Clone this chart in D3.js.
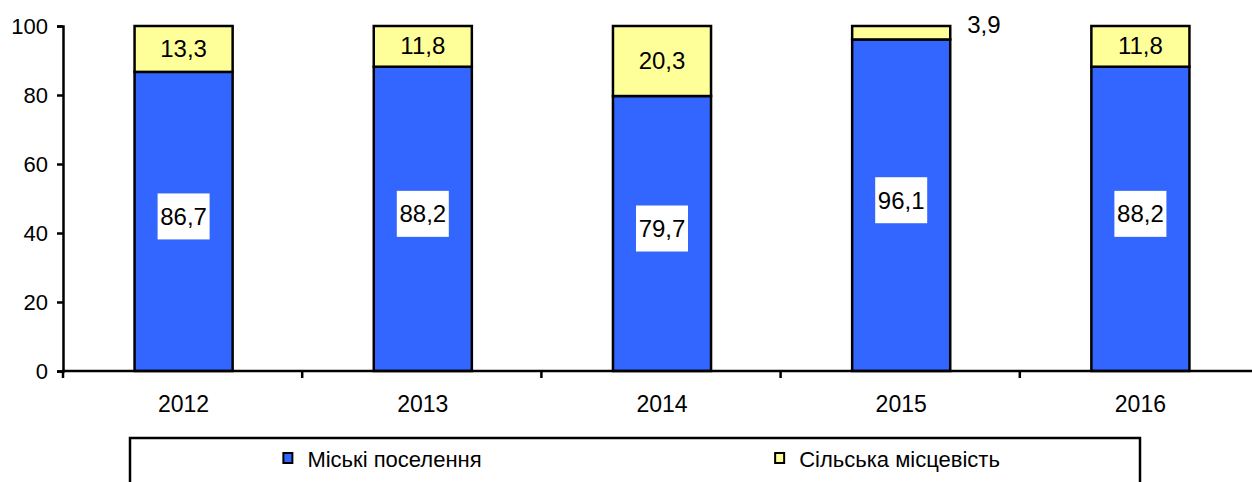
<!DOCTYPE html>
<meta charset="utf-8">
<html>
<head>
    <style>
        body { margin: 0; background: #fff; }
        svg text { font-family: "Liberation Sans", Arial, sans-serif; fill: #000; }
    </style>
    <script src="https://d3js.org/d3.v7.min.js"></script>
</head>
<body>
<div id="chart-container"></div>
<script>
    // data
    var years = ["2012", "2013", "2014", "2015", "2016"];
    var urban = [86.7, 88.2, 79.7, 96.1, 88.2];
    var rural = [13.3, 11.8, 20.3, 3.9, 11.8];
    var seriesNames = ["Міські поселення", "Сільська місцевість"];
    var yTicks = [0, 20, 40, 60, 80, 100];

    var width = 1252, height = 482;
    var colors = ["#3366FF", "#FFFF99"];

    var rows = years.map(function (y, i) {
        return { year: y, urban: urban[i], rural: rural[i] };
    });
    var stackedData = d3.stack().keys(["urban", "rural"])(rows);

    var fmt = function (v) { return d3.format(".1f")(v).replace(".", ","); };

    var svg = d3.select("#chart-container")
        .append("svg")
        .attr("width", width)
        .attr("height", height);

    var x = d3.scaleBand()
        .domain(years)
        .range([64, 1260])
        .paddingInner(0.59)
        .paddingOuter(0.295);

    var y = d3.scaleLinear()
        .domain([0, 100])
        .range([371, 26]);

    // bars
    svg.append("g")
        .selectAll("g")
        .data(stackedData)
        .enter().append("g")
        .attr("fill", function (d, i) { return colors[i]; })
        .selectAll("rect")
        .data(function (d) { return d; })
        .enter().append("rect")
        .attr("x", function (d) { return x(d.data.year); })
        .attr("y", function (d) { return y(d[1]); })
        .attr("width", x.bandwidth())
        .attr("height", function (d) { return y(d[0]) - y(d[1]); })
        .attr("stroke", "#000")
        .attr("stroke-width", 2.5);

    // y axis
    var yAxis = svg.append("g")
        .attr("transform", "translate(63,0)")
        .call(d3.axisLeft(y).tickValues(yTicks).tickSize(6).tickPadding(9));
    yAxis.select(".domain").attr("stroke-width", 2.5);
    yAxis.selectAll(".tick line").attr("stroke-width", 2.5);
    yAxis.selectAll("text").style("font-size", "22px")
        .style("font-family", "'Liberation Sans', Arial, sans-serif");

    // x axis line + boundary ticks
    svg.append("line")
        .attr("x1", 62).attr("x2", width)
        .attr("y1", y(0)).attr("y2", y(0))
        .attr("stroke", "#000").attr("stroke-width", 2.5);
    svg.append("g")
        .selectAll("line")
        .data(d3.range(years.length + 1))
        .enter().append("line")
        .attr("x1", function (i) { return x.range()[0] + i * x.step() - 1; })
        .attr("x2", function (i) { return x.range()[0] + i * x.step() - 1; })
        .attr("y1", y(0)).attr("y2", y(0) + 7)
        .attr("stroke", "#000").attr("stroke-width", 2.5);
    svg.append("g")
        .selectAll("text")
        .data(years)
        .enter().append("text")
        .attr("x", function (d) { return x(d) + x.bandwidth() / 2; })
        .attr("y", y(0) + 41)
        .attr("text-anchor", "middle")
        .style("font-size", "23px")
        .text(function (d) { return d; });

    // labels for urban (white boxes)
    var urbanLabels = svg.append("g")
        .selectAll("g")
        .data(stackedData[0])
        .enter().append("g")
        .attr("transform", function (d) {
            return "translate(" + (x(d.data.year) + x.bandwidth() / 2) + "," + ((y(d[0]) + y(d[1])) / 2 - 5) + ")";
        });
    urbanLabels.append("rect")
        .attr("x", -26).attr("y", -23)
        .attr("width", 52).attr("height", 46)
        .attr("fill", "#fff");
    urbanLabels.append("text")
        .attr("text-anchor", "middle")
        .attr("dy", "0.36em")
        .style("font-size", "24px")
        .text(function (d) { return fmt(d.data.urban); });

    // labels for rural
    svg.append("g")
        .selectAll("text")
        .data(stackedData[1])
        .enter().append("text")
        .attr("x", function (d) {
            return d.data.rural < 6 ? x(d.data.year) + x.bandwidth() + 17 : x(d.data.year) + x.bandwidth() / 2;
        })
        .attr("y", function (d) {
            return d.data.rural < 6 ? (y(d[0]) + y(d[1])) / 2 - 8 : (y(d[0]) + y(d[1])) / 2 - 1;
        })
        .attr("text-anchor", function (d) { return d.data.rural < 6 ? "start" : "middle"; })
        .attr("dy", "0.36em")
        .style("font-size", "24px")
        .text(function (d) { return fmt(d.data.rural); });

    // legend
    var lx = 130, ly = 438, lw = 1010;
    svg.append("rect")
        .attr("x", lx).attr("y", ly)
        .attr("width", lw).attr("height", 80)
        .attr("fill", "#fff")
        .attr("stroke", "#000").attr("stroke-width", 2.5);

    var legend = svg.selectAll(".legend")
        .data(seriesNames)
        .enter().append("g")
        .attr("class", "legend");
    legend.append("rect")
        .attr("width", 9).attr("height", 10)
        .attr("y", 453)
        .attr("fill", function (d, i) { return colors[i]; })
        .attr("stroke", "#000").attr("stroke-width", 2);
    legend.append("text")
        .attr("x", 24)
        .attr("y", 467)
        .style("font-size", "22px")
        .text(function (d) { return d; });
    legend.each(function (d, i) {
        var g = d3.select(this);
        var w = 24 + g.select("text").node().getComputedTextLength();
        var cx = lx + lw / 4 + i * lw / 2;
        g.attr("transform", "translate(" + (cx - w / 2) + ",0)");
    });
</script>
</body>
</html>
